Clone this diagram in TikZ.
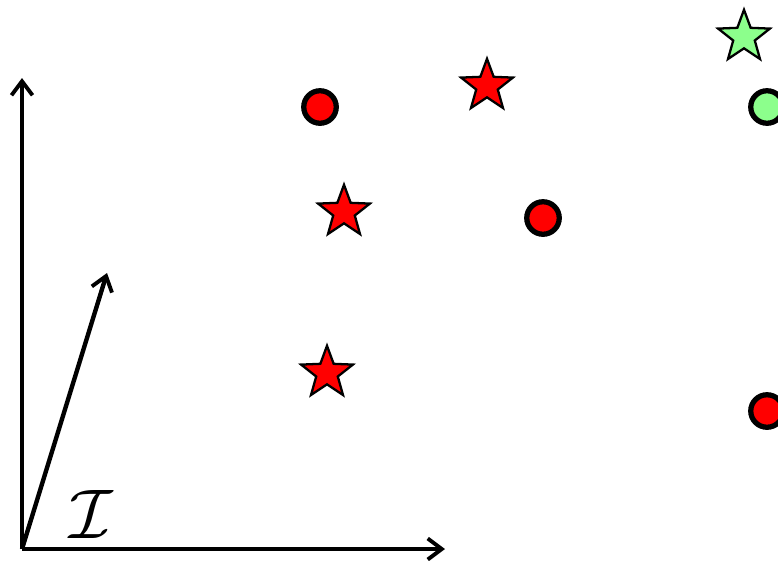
\documentclass[tikz,border=0pt]{standalone}
\usepackage{fix-cm}
\usepackage{amsmath, amssymb}
\usetikzlibrary{positioning, shapes.geometric, arrows.meta}
\begin{document}
\begin{tikzpicture}[x=0.02cm,y=-0.02cm]
	 \tikzstyle{axis} = [draw,line width=2.5pt,-{Straight Barb[length=8pt,width=12pt,line width=2.2pt]},black]
	 \tikzstyle{dot} = [circle,draw=black,line width=3pt,minimum size=18.5pt,inner sep=0pt]
	 \tikzstyle{pt} = [star,star points=5,star point ratio=2.4,draw=black,line width=1.3pt,minimum size=31pt,inner sep=0pt]
	 \useasboundingbox (0,0) rectangle (778,561);
	 \clip (0,0) rectangle (778,561);
	 \coordinate (o) at (22,549);
	 \coordinate (e1) at (445,549);
	 \coordinate (e2) at (22,78);
	 \coordinate (e3) at (107,273);
	 \draw[axis] (o) -- (e1);
	 \draw[axis] (o) -- (e2);
	 \draw[axis] (o) -- (e3);
	 \node (lab) at (91,514) {\fontsize{40}{48}\selectfont$\mathcal{I}$};
	 \node[dot,fill=red] (c1) at (320,107) {};
	 \node[dot,fill=red] (c2) at (543,218) {};
	 \node[dot,fill=red] (c3) at (767,411) {};
	 \node[dot,fill=green!45] (c4) at (767,107) {};
	 \node[pt,fill=red] (s1) at (487,86) {};
	 \node[pt,fill=red] (s2) at (344,212) {};
	 \node[pt,fill=red] (s3) at (327,373) {};
	 \node[pt,fill=green!45] (s4) at (744,37) {};
 \end{tikzpicture}
\end{document}
